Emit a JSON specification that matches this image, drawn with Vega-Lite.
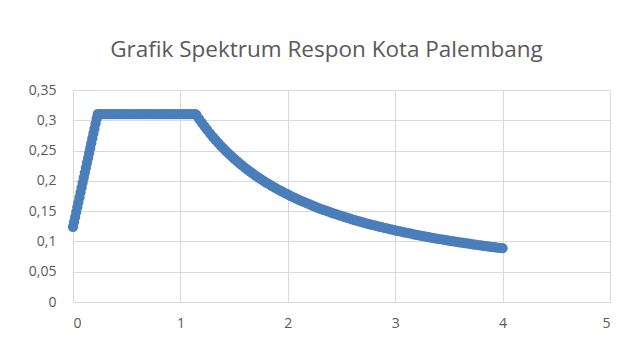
{
  "$schema": "https://vega.github.io/schema/vega-lite/v6.json",
  "width": 537,
  "height": 212,
  "autosize": {"type": "none"},
  "padding": {"left": 73, "top": 90, "right": 28, "bottom": 51},
  "background": "white",
  "title": {
    "text": "Grafik Spektrum Respon Kota Palembang",
    "font": "Open Sans",
    "fontSize": 22.5,
    "fontWeight": "normal",
    "color": "#595959",
    "anchor": "middle",
    "baseline": "alphabetic",
    "offset": 4,
    "dx": -15
  },
  "config": {
    "view": {"stroke": null},
    "axis": {
      "labelFont": "Open Sans",
      "labelFontSize": 14,
      "labelColor": "#595959",
      "gridColor": "#d9d9d9",
      "gridWidth": 1,
      "ticks": false,
      "title": null
    }
  },
  "data": {
    "values": [
      {"T": 0.00, "Sa": 0.1240},
      {"T": 0.01, "Sa": 0.1321},
      {"T": 0.02, "Sa": 0.1402},
      {"T": 0.03, "Sa": 0.1484},
      {"T": 0.04, "Sa": 0.1565},
      {"T": 0.05, "Sa": 0.1646},
      {"T": 0.06, "Sa": 0.1727},
      {"T": 0.07, "Sa": 0.1809},
      {"T": 0.08, "Sa": 0.1890},
      {"T": 0.09, "Sa": 0.1971},
      {"T": 0.10, "Sa": 0.2052},
      {"T": 0.11, "Sa": 0.2133},
      {"T": 0.12, "Sa": 0.2215},
      {"T": 0.13, "Sa": 0.2296},
      {"T": 0.14, "Sa": 0.2377},
      {"T": 0.15, "Sa": 0.2458},
      {"T": 0.16, "Sa": 0.2540},
      {"T": 0.17, "Sa": 0.2621},
      {"T": 0.18, "Sa": 0.2702},
      {"T": 0.19, "Sa": 0.2783},
      {"T": 0.20, "Sa": 0.2864},
      {"T": 0.21, "Sa": 0.2946},
      {"T": 0.22, "Sa": 0.3027},
      {"T": 0.23, "Sa": 0.3100},
      {"T": 0.25, "Sa": 0.3100},
      {"T": 0.275, "Sa": 0.3100},
      {"T": 0.30, "Sa": 0.3100},
      {"T": 0.325, "Sa": 0.3100},
      {"T": 0.35, "Sa": 0.3100},
      {"T": 0.375, "Sa": 0.3100},
      {"T": 0.40, "Sa": 0.3100},
      {"T": 0.425, "Sa": 0.3100},
      {"T": 0.45, "Sa": 0.3100},
      {"T": 0.475, "Sa": 0.3100},
      {"T": 0.50, "Sa": 0.3100},
      {"T": 0.525, "Sa": 0.3100},
      {"T": 0.55, "Sa": 0.3100},
      {"T": 0.575, "Sa": 0.3100},
      {"T": 0.60, "Sa": 0.3100},
      {"T": 0.625, "Sa": 0.3100},
      {"T": 0.65, "Sa": 0.3100},
      {"T": 0.675, "Sa": 0.3100},
      {"T": 0.70, "Sa": 0.3100},
      {"T": 0.725, "Sa": 0.3100},
      {"T": 0.75, "Sa": 0.3100},
      {"T": 0.775, "Sa": 0.3100},
      {"T": 0.80, "Sa": 0.3100},
      {"T": 0.825, "Sa": 0.3100},
      {"T": 0.85, "Sa": 0.3100},
      {"T": 0.875, "Sa": 0.3100},
      {"T": 0.90, "Sa": 0.3100},
      {"T": 0.925, "Sa": 0.3100},
      {"T": 0.95, "Sa": 0.3100},
      {"T": 0.975, "Sa": 0.3100},
      {"T": 1.00, "Sa": 0.3100},
      {"T": 1.025, "Sa": 0.3100},
      {"T": 1.05, "Sa": 0.3100},
      {"T": 1.075, "Sa": 0.3100},
      {"T": 1.10, "Sa": 0.3100},
      {"T": 1.125, "Sa": 0.3100},
      {"T": 1.14, "Sa": 0.3100},
      {"T": 1.15, "Sa": 0.3087},
      {"T": 1.175, "Sa": 0.3021},
      {"T": 1.20, "Sa": 0.2958},
      {"T": 1.225, "Sa": 0.2898},
      {"T": 1.25, "Sa": 0.2840},
      {"T": 1.275, "Sa": 0.2784},
      {"T": 1.30, "Sa": 0.2731},
      {"T": 1.325, "Sa": 0.2679},
      {"T": 1.35, "Sa": 0.2630},
      {"T": 1.375, "Sa": 0.2582},
      {"T": 1.40, "Sa": 0.2536},
      {"T": 1.425, "Sa": 0.2491},
      {"T": 1.45, "Sa": 0.2448},
      {"T": 1.475, "Sa": 0.2407},
      {"T": 1.50, "Sa": 0.2367},
      {"T": 1.525, "Sa": 0.2328},
      {"T": 1.55, "Sa": 0.2290},
      {"T": 1.575, "Sa": 0.2254},
      {"T": 1.60, "Sa": 0.2219},
      {"T": 1.625, "Sa": 0.2185},
      {"T": 1.65, "Sa": 0.2152},
      {"T": 1.675, "Sa": 0.2119},
      {"T": 1.70, "Sa": 0.2088},
      {"T": 1.725, "Sa": 0.2058},
      {"T": 1.75, "Sa": 0.2029},
      {"T": 1.775, "Sa": 0.2000},
      {"T": 1.80, "Sa": 0.1972},
      {"T": 1.825, "Sa": 0.1945},
      {"T": 1.85, "Sa": 0.1919},
      {"T": 1.875, "Sa": 0.1893},
      {"T": 1.90, "Sa": 0.1868},
      {"T": 1.925, "Sa": 0.1844},
      {"T": 1.95, "Sa": 0.1821},
      {"T": 1.975, "Sa": 0.1797},
      {"T": 2.00, "Sa": 0.1775},
      {"T": 2.025, "Sa": 0.1753},
      {"T": 2.05, "Sa": 0.1732},
      {"T": 2.075, "Sa": 0.1711},
      {"T": 2.10, "Sa": 0.1690},
      {"T": 2.125, "Sa": 0.1671},
      {"T": 2.15, "Sa": 0.1651},
      {"T": 2.175, "Sa": 0.1632},
      {"T": 2.20, "Sa": 0.1614},
      {"T": 2.225, "Sa": 0.1596},
      {"T": 2.25, "Sa": 0.1578},
      {"T": 2.275, "Sa": 0.1560},
      {"T": 2.30, "Sa": 0.1543},
      {"T": 2.325, "Sa": 0.1527},
      {"T": 2.35, "Sa": 0.1511},
      {"T": 2.375, "Sa": 0.1495},
      {"T": 2.40, "Sa": 0.1479},
      {"T": 2.425, "Sa": 0.1464},
      {"T": 2.45, "Sa": 0.1449},
      {"T": 2.475, "Sa": 0.1434},
      {"T": 2.50, "Sa": 0.1420},
      {"T": 2.525, "Sa": 0.1406},
      {"T": 2.55, "Sa": 0.1392},
      {"T": 2.575, "Sa": 0.1379},
      {"T": 2.60, "Sa": 0.1365},
      {"T": 2.625, "Sa": 0.1352},
      {"T": 2.65, "Sa": 0.1340},
      {"T": 2.675, "Sa": 0.1327},
      {"T": 2.70, "Sa": 0.1315},
      {"T": 2.725, "Sa": 0.1303},
      {"T": 2.75, "Sa": 0.1291},
      {"T": 2.775, "Sa": 0.1279},
      {"T": 2.80, "Sa": 0.1268},
      {"T": 2.825, "Sa": 0.1257},
      {"T": 2.85, "Sa": 0.1246},
      {"T": 2.875, "Sa": 0.1235},
      {"T": 2.90, "Sa": 0.1224},
      {"T": 2.925, "Sa": 0.1214},
      {"T": 2.95, "Sa": 0.1203},
      {"T": 2.975, "Sa": 0.1193},
      {"T": 3.00, "Sa": 0.1183},
      {"T": 3.025, "Sa": 0.1174},
      {"T": 3.05, "Sa": 0.1164},
      {"T": 3.075, "Sa": 0.1154},
      {"T": 3.10, "Sa": 0.1145},
      {"T": 3.125, "Sa": 0.1136},
      {"T": 3.15, "Sa": 0.1127},
      {"T": 3.175, "Sa": 0.1118},
      {"T": 3.20, "Sa": 0.1109},
      {"T": 3.225, "Sa": 0.1101},
      {"T": 3.25, "Sa": 0.1092},
      {"T": 3.275, "Sa": 0.1084},
      {"T": 3.30, "Sa": 0.1076},
      {"T": 3.325, "Sa": 0.1068},
      {"T": 3.35, "Sa": 0.1060},
      {"T": 3.375, "Sa": 0.1052},
      {"T": 3.40, "Sa": 0.1044},
      {"T": 3.425, "Sa": 0.1036},
      {"T": 3.45, "Sa": 0.1029},
      {"T": 3.475, "Sa": 0.1022},
      {"T": 3.50, "Sa": 0.1014},
      {"T": 3.525, "Sa": 0.1007},
      {"T": 3.55, "Sa": 0.1000},
      {"T": 3.575, "Sa": 0.0993},
      {"T": 3.60, "Sa": 0.0986},
      {"T": 3.625, "Sa": 0.0979},
      {"T": 3.65, "Sa": 0.0973},
      {"T": 3.675, "Sa": 0.0966},
      {"T": 3.70, "Sa": 0.0959},
      {"T": 3.725, "Sa": 0.0953},
      {"T": 3.75, "Sa": 0.0947},
      {"T": 3.775, "Sa": 0.0940},
      {"T": 3.80, "Sa": 0.0934},
      {"T": 3.825, "Sa": 0.0928},
      {"T": 3.85, "Sa": 0.0922},
      {"T": 3.875, "Sa": 0.0916},
      {"T": 3.90, "Sa": 0.0910},
      {"T": 3.925, "Sa": 0.0904},
      {"T": 3.95, "Sa": 0.0899},
      {"T": 3.975, "Sa": 0.0893},
      {"T": 4.00, "Sa": 0.0888}
    ]
  },
  "mark": {"type": "point", "shape": "circle", "filled": true, "size": 105, "color": "#4a7ebb", "opacity": 1},
  "encoding": {
    "x": {
      "field": "T",
      "type": "quantitative",
      "scale": {"domain": [0, 5], "nice": false},
      "axis": {
        "values": [0, 1, 2, 3, 4, 5],
        "domain": true,
        "domainColor": "#d9d9d9",
        "labelPadding": 14,
        "labelExpr": "replace(format(datum.value, '.2~f'), '.', ',')"
      }
    },
    "y": {
      "field": "Sa",
      "type": "quantitative",
      "scale": {"domain": [0, 0.35], "nice": false, "zero": true},
      "axis": {
        "values": [0, 0.05, 0.1, 0.15, 0.2, 0.25, 0.3, 0.35],
        "domain": false,
        "labelPadding": 17,
        "labelExpr": "replace(format(datum.value, '.2~f'), '.', ',')"
      }
    }
  }
}
